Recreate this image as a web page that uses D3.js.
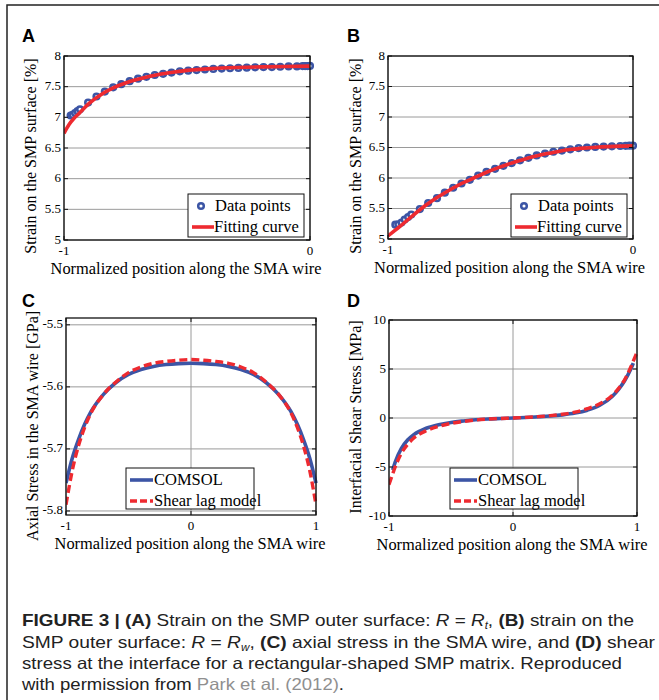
<!DOCTYPE html>
<html>
<head>
<meta charset="utf-8">
<script src="https://cdn.jsdelivr.net/npm/d3@7"></script>
<style>
  body { margin: 0; background: #fff; }
  svg { display: block; }
</style>
</head>
<body>
<svg id="fig" width="659" height="700"></svg>
<script>
// Panel A: strain on SMP outer surface, R = Rt
var aPointsX = [-0.973, -0.965, -0.955, -0.945, -0.935, -0.902, -0.868, -0.834, -0.800, -0.767,
                -0.733, -0.699, -0.665, -0.631, -0.597, -0.563, -0.529, -0.495, -0.461, -0.427,
                -0.393, -0.359, -0.325, -0.291, -0.257, -0.223, -0.189, -0.155, -0.121, -0.087,
                -0.053, -0.030, -0.020, -0.010, 0];
var aPointsY = [7.03, 7.04, 7.07, 7.10, 7.13, 7.24, 7.34, 7.42, 7.49, 7.54,
                7.59, 7.63, 7.66, 7.69, 7.71, 7.73, 7.75, 7.76, 7.77, 7.78,
                7.79, 7.795, 7.80, 7.805, 7.81, 7.815, 7.82, 7.82, 7.825, 7.83,
                7.83, 7.835, 7.835, 7.835, 7.838];
var aFitX = [-1, -0.98, -0.96, -0.94, -0.92, -0.9, -0.85, -0.8, -0.75, -0.7, -0.65, -0.6,
             -0.55, -0.5, -0.4, -0.3, -0.2, -0.1, 0];
var aFitY = [6.74, 6.88, 6.98, 7.06, 7.14, 7.22, 7.37, 7.48, 7.56, 7.62, 7.67, 7.71,
             7.74, 7.765, 7.795, 7.812, 7.822, 7.83, 7.835];

// Panel B: strain on SMP outer surface, R = Rw
var bPointsX = [-0.970, -0.958, -0.945, -0.932, -0.918, -0.905, -0.870, -0.836, -0.800, -0.768,
                -0.734, -0.700, -0.666, -0.632, -0.598, -0.563, -0.529, -0.495, -0.461, -0.427,
                -0.393, -0.359, -0.325, -0.290, -0.256, -0.222, -0.188, -0.154, -0.120, -0.086,
                -0.052, -0.030, -0.015, 0];
var bPointsY = [5.235, 5.24, 5.27, 5.32, 5.36, 5.40, 5.49, 5.59, 5.67, 5.76,
                5.84, 5.91, 5.97, 6.04, 6.10, 6.15, 6.20, 6.245, 6.29, 6.33,
                6.37, 6.40, 6.43, 6.45, 6.47, 6.49, 6.50, 6.51, 6.515, 6.52,
                6.525, 6.528, 6.53, 6.53];
var bFitX = [-1, -0.95, -0.9, -0.85, -0.8, -0.75, -0.7, -0.65, -0.6, -0.55, -0.5, -0.45,
             -0.4, -0.35, -0.3, -0.25, -0.2, -0.15, -0.1, -0.05, 0];
var bFitY = [5.05, 5.21, 5.38, 5.54, 5.68, 5.80, 5.91, 6.00, 6.09, 6.17, 6.24, 6.30,
             6.355, 6.40, 6.44, 6.47, 6.49, 6.505, 6.515, 6.522, 6.527];

// Panel C: axial stress in the SMA wire
var cX = [-1, -0.95, -0.9, -0.85, -0.8, -0.7, -0.6, -0.5, -0.4, -0.3, -0.2, -0.1, 0,
          0.1, 0.2, 0.3, 0.4, 0.5, 0.6, 0.7, 0.8, 0.85, 0.9, 0.95, 1];
var cComsol = [-5.755, -5.715, -5.685, -5.66, -5.64, -5.612, -5.593, -5.58, -5.572, -5.567, -5.564, -5.5625, -5.562,
               -5.5625, -5.564, -5.567, -5.572, -5.58, -5.593, -5.612, -5.64, -5.66, -5.685, -5.715, -5.755];
var cShearLag = [-5.79, -5.735, -5.695, -5.665, -5.642, -5.612, -5.592, -5.577, -5.568, -5.562, -5.559, -5.557, -5.556,
                 -5.557, -5.559, -5.562, -5.568, -5.577, -5.592, -5.612, -5.642, -5.665, -5.695, -5.735, -5.79];

// Panel D: interfacial shear stress
var dComsolX = [-0.97, -0.95, -0.9, -0.85, -0.8, -0.7, -0.6, -0.5, -0.4, -0.3, -0.2, -0.1, 0,
                0.1, 0.2, 0.3, 0.4, 0.5, 0.6, 0.7, 0.8, 0.85, 0.9, 0.95, 0.97];
var dComsolY = [-5.3, -4.5, -3.1, -2.25, -1.7, -1.05, -0.68, -0.45, -0.3, -0.18, -0.1, -0.05, 0,
                0.05, 0.12, 0.2, 0.32, 0.5, 0.8, 1.3, 2.2, 2.9, 3.8, 5.0, 5.6];
var dShearX = [-1, -0.97, -0.95, -0.9, -0.85, -0.8, -0.7, -0.6, -0.5, -0.4, -0.3, -0.2, -0.1, 0,
               0.1, 0.2, 0.3, 0.4, 0.5, 0.6, 0.7, 0.8, 0.85, 0.9, 0.95, 0.97, 1];
var dShearY = [-6.8, -5.7, -5.0, -3.6, -2.7, -2.05, -1.3, -0.85, -0.55, -0.35, -0.2, -0.11, -0.05, 0,
               0.06, 0.14, 0.24, 0.38, 0.6, 0.95, 1.45, 2.3, 3.0, 3.9, 5.2, 5.8, 6.7];

var yTicksAB = [5, 5.5, 6, 6.5, 7, 7.5, 8];
var yTicksC = [-5.8, -5.7, -5.6, -5.5];
var yTicksD = [-10, -5, 0, 5, 10];

var BLUE = '#3c55a5';
var RED = '#ee2a30';
var GRID = '#9a9a9a';
var SERIF = "'Liberation Serif', 'Times New Roman', serif";
var SANS = "'Liberation Sans', Arial, sans-serif";

var svg = d3.select('#fig');

// outer frame: only left and top edges show in the picture
svg.append('path')
    .attr('d', 'M7,700 L7,5 L659,5')
    .attr('fill', 'none')
    .attr('stroke', '#222')
    .attr('stroke-width', 1.5);

function zip(xs, ys) {
    return xs.map(function(x, i) { return [x, ys[i]]; });
}

function fmtTick(v) {
    // MATLAB style: -1, 0, 7.5, -5.6 ...
    return String(+v.toFixed(2));
}

/**
 * Draw one MATLAB-like panel. Grid lines, box, inward ticks, labels.
 */
function drawPanel(p) {
    var g = svg.append('g');
    var x = p.x, y = p.y;
    var x0 = x.range()[0], x1 = x.range()[1];
    var yb = y.range()[0], yt = y.range()[1];

    // horizontal grid
    g.selectAll('.hg').data(p.yTicks).enter().append('line')
        .attr('x1', x0).attr('x2', x1)
        .attr('y1', function(d) { return y(d); })
        .attr('y2', function(d) { return y(d); })
        .attr('stroke', GRID).attr('stroke-width', 1);
    // vertical grid (only interior ticks are visible)
    g.selectAll('.vg').data(p.xTicks).enter().append('line')
        .attr('x1', function(d) { return x(d); })
        .attr('x2', function(d) { return x(d); })
        .attr('y1', yb).attr('y2', yt)
        .attr('stroke', GRID).attr('stroke-width', 1);

    // clip so curves stay in the box
    var clipId = 'clip' + p.letter;
    g.append('clipPath').attr('id', clipId).append('rect')
        .attr('x', x0).attr('y', yt - 2).attr('width', x1 - x0 + 4).attr('height', yb - yt + 4);
    var plot = g.append('g').attr('clip-path', 'url(#' + clipId + ')');
    p.draw(plot);

    // box
    g.append('rect')
        .attr('x', x0).attr('y', yt)
        .attr('width', x1 - x0).attr('height', yb - yt)
        .attr('fill', 'none').attr('stroke', '#111').attr('stroke-width', 1.3);

    // inward ticks on all four sides
    p.yTicks.forEach(function(t) {
        g.append('line').attr('x1', x0).attr('x2', x0 + 4).attr('y1', y(t)).attr('y2', y(t)).attr('stroke', '#111');
        g.append('line').attr('x1', x1).attr('x2', x1 - 4).attr('y1', y(t)).attr('y2', y(t)).attr('stroke', '#111');
    });
    p.xTicks.forEach(function(t) {
        g.append('line').attr('x1', x(t)).attr('x2', x(t)).attr('y1', yb).attr('y2', yb - 4).attr('stroke', '#111');
        g.append('line').attr('x1', x(t)).attr('x2', x(t)).attr('y1', yt).attr('y2', yt + 4).attr('stroke', '#111');
    });

    // tick labels
    g.selectAll('.yl').data(p.yTicks).enter().append('text')
        .attr('x', x0 - 3)
        .attr('y', function(d) { return y(d) + 3.5; })
        .attr('text-anchor', 'end')
        .style('font-family', SERIF)
        .style('font-size', '13px')
        .text(fmtTick);
    g.selectAll('.xl').data(p.xTicks).enter().append('text')
        .attr('x', function(d) { return x(d); })
        .attr('y', yb + 15)
        .attr('text-anchor', 'middle')
        .style('font-family', SERIF)
        .style('font-size', '13px')
        .text(fmtTick);

    // axis titles
    g.append('text')
        .attr('x', (x0 + x1) / 2 - 1)
        .attr('y', yb + 33.5)
        .attr('text-anchor', 'middle')
        .style('font-family', SERIF)
        .style('font-size', '16.4px')
        .text('Normalized position along the SMA wire');
    g.append('text')
        .attr('transform', 'translate(' + p.yTitleX + ',' + p.yTitleY + ') rotate(-90)')
        .attr('text-anchor', 'middle')
        .style('font-family', SERIF)
        .style('font-size', '16px')
        .text(p.yTitle);

    // panel letter
    g.append('text')
        .attr('x', p.letterX).attr('y', p.letterY)
        .style('font-family', SANS)
        .style('font-weight', 'bold')
        .style('font-size', '18px')
        .text(p.letter);

    // legend
    var L = p.legend;
    var lg = g.append('g').attr('transform', 'translate(' + L.x + ',' + L.y + ')');
    lg.append('rect').attr('width', L.w).attr('height', L.h)
        .attr('fill', '#fff').attr('stroke', '#111').attr('stroke-width', 1);
    L.items.forEach(function(it, i) {
        var cy = 12 + i * 21;
        if (it.kind === 'dot') {
            lg.append('circle').attr('cx', 13).attr('cy', cy).attr('r', 2.8)
                .attr('fill', '#fff').attr('stroke', BLUE).attr('stroke-width', 2.5);
        } else {
            lg.append('line').attr('x1', 4).attr('x2', it.lineLen).attr('y1', cy).attr('y2', cy)
                .attr('stroke', it.color).attr('stroke-width', 3.6)
                .attr('stroke-dasharray', it.dash || null);
        }
        lg.append('text').attr('x', it.textX).attr('y', cy + 5)
            .style('font-family', SERIF)
            .style('font-size', '16.5px')
            .text(it.label);
    });
}

function strainDraw(points, fit) {
    return function(plot) {
        var x = this.x, y = this.y;
        plot.selectAll('circle').data(points).enter().append('circle')
            .attr('cx', function(d) { return x(d[0]); })
            .attr('cy', function(d) { return y(d[1]); })
            .attr('r', 2.8)
            .attr('fill', '#fff')
            .attr('stroke', BLUE)
            .attr('stroke-width', 2.6);
        plot.append('path')
            .attr('d', d3.line().x(function(d) { return x(d[0]); }).y(function(d) { return y(d[1]); })
                  .curve(d3.curveMonotoneX)(fit))
            .attr('fill', 'none')
            .attr('stroke', RED)
            .attr('stroke-width', 3.6);
    };
}

function stressDraw(comsol, shear) {
    return function(plot) {
        var x = this.x, y = this.y;
        var line = d3.line().x(function(d) { return x(d[0]); }).y(function(d) { return y(d[1]); })
            .curve(d3.curveMonotoneX);
        plot.append('path').attr('d', line(comsol))
            .attr('fill', 'none').attr('stroke', BLUE).attr('stroke-width', 3.6);
        plot.append('path').attr('d', line(shear))
            .attr('fill', 'none').attr('stroke', RED).attr('stroke-width', 3.4)
            .attr('stroke-dasharray', '8,4');
    };
}

var strainLegend = function(lx, ly) {
    return {
        x: lx, y: ly, w: 116, h: 43,
        items: [
            { kind: 'dot', label: 'Data points', textX: 27 },
            { kind: 'line', label: 'Fitting curve', color: RED, lineLen: 26, textX: 26 }
        ]
    };
};
var stressLegend = function(lx, ly) {
    return {
        x: lx, y: ly, w: 128, h: 41,
        items: [
            { kind: 'line', label: 'COMSOL', color: BLUE, lineLen: 27, textX: 28 },
            { kind: 'line', label: 'Shear lag model', color: RED, lineLen: 27, textX: 28, dash: '7,3' }
        ]
    };
};

var panels = [
    {
        letter: 'A', letterX: 22, letterY: 42,
        x: d3.scaleLinear().domain([-1, 0]).range([64, 310]),
        y: d3.scaleLinear().domain([5, 8]).range([240, 56]),
        xTicks: [-1, 0], yTicks: yTicksAB,
        yTitle: 'Strain on the SMP surface [%]', yTitleX: 36, yTitleY: 156,
        legend: strainLegend(188, 194),
        draw: strainDraw(zip(aPointsX, aPointsY), zip(aFitX, aFitY))
    },
    {
        letter: 'B', letterX: 347, letterY: 42,
        x: d3.scaleLinear().domain([-1, 0]).range([388, 633]),
        y: d3.scaleLinear().domain([5, 8]).range([239, 56]),
        xTicks: [-1, 0], yTicks: yTicksAB,
        yTitle: 'Strain on the SMP surface [%]', yTitleX: 361, yTitleY: 156,
        legend: strainLegend(511, 194),
        draw: strainDraw(zip(bPointsX, bPointsY), zip(bFitX, bFitY))
    },
    {
        letter: 'C', letterX: 22, letterY: 307,
        x: d3.scaleLinear().domain([-1, 1]).range([66, 316]),
        y: d3.scaleLinear().domain([-5.8065, -5.489]).range([515, 318]),
        xTicks: [-1, 0, 1], yTicks: yTicksC,
        yTitle: 'Axial Stress in the SMA wire [GPa]', yTitleX: 38, yTitleY: 426,
        legend: stressLegend(126, 468),
        draw: stressDraw(zip(cX, cComsol), zip(cX, cShearLag))
    },
    {
        letter: 'D', letterX: 347, letterY: 307,
        x: d3.scaleLinear().domain([-1, 1]).range([389, 637]),
        y: d3.scaleLinear().domain([-10, 10]).range([516, 320]),
        xTicks: [-1, 0, 1], yTicks: yTicksD,
        yTitle: 'Interfacial Shear Stress [MPa]', yTitleX: 361, yTitleY: 417,
        legend: stressLegend(450, 468),
        draw: stressDraw(zip(dComsolX, dComsolY), zip(dShearX, dShearY))
    }
];

panels.forEach(function(p) {
    var d = p.draw;
    p.draw = function(plot) { d.call(p, plot); };
    drawPanel(p);
});

// caption; line widths forced to match the journal's condensed face
var cap = svg.append('g')
    .style('font-family', "'Liberation Sans', Arial, sans-serif")
    .style('font-size', '16.5px')
    .attr('fill', '#222');

function capLine(yPos, width, parts) {
    var t = cap.append('text').attr('x', 22).attr('y', yPos)
        .attr('textLength', width).attr('lengthAdjust', 'spacingAndGlyphs');
    parts.forEach(function(pt) {
        var s = t.append('tspan').text(pt.t);
        if (pt.b) s.style('font-weight', 'bold');
        if (pt.i) s.style('font-style', 'italic');
        if (pt.sub) s.style('font-size', '10px').attr('dy', 3);
        if (pt.up) s.attr('dy', -3);
        if (pt.c) s.attr('fill', pt.c);
    });
}

capLine(626, 612, [
    { t: 'FIGURE 3 | (A)', b: true },
    { t: ' Strain on the SMP outer surface: ' },
    { t: 'R', i: true }, { t: ' = ' }, { t: 'R', i: true }, { t: 't', i: true, sub: true },
    { t: ',', up: true }, { t: ' (B)', b: true }, { t: ' strain on the' }
]);
capLine(648, 633, [
    { t: 'SMP outer surface: ' },
    { t: 'R', i: true }, { t: ' = ' }, { t: 'R', i: true }, { t: 'w', i: true, sub: true },
    { t: ',', up: true }, { t: ' (C)', b: true }, { t: ' axial stress in the SMA wire, and ' },
    { t: '(D)', b: true }, { t: ' shear' }
]);
capLine(669, 600, [
    { t: 'stress at the interface for a rectangular-shaped SMP matrix. Reproduced' }
]);
capLine(690, 322, [
    { t: 'with permission from ' }, { t: 'Park et al. (2012)', c: '#8f8f8f' }, { t: '.' }
]);
</script>
</body>
</html>
